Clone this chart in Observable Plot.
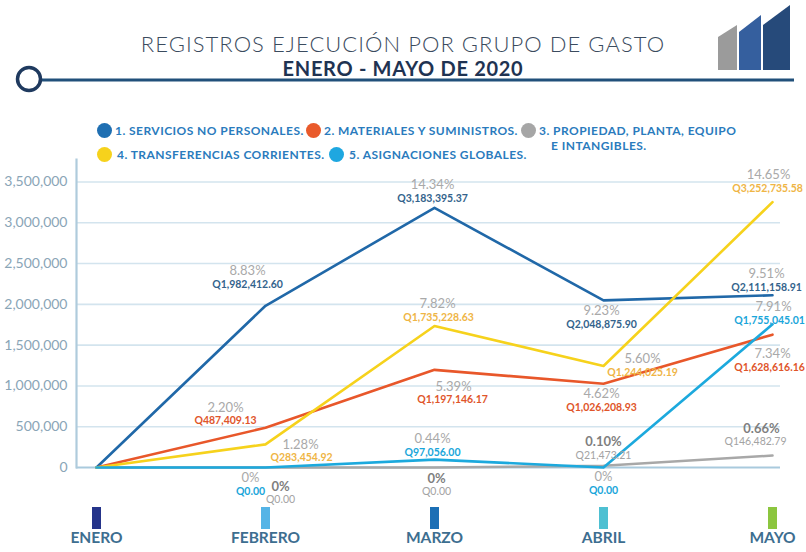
<!DOCTYPE html>
<html><head><meta charset="utf-8">
<script src="https://cdn.jsdelivr.net/npm/d3@7"></script>
<script src="https://cdn.jsdelivr.net/npm/@observablehq/plot@0.6"></script>
<style>
html,body{margin:0;padding:0;background:#fff;}
body{width:806px;height:552px;overflow:hidden;font-family:Lato,"Open Sans",sans-serif;}
#head{position:relative;width:806px;height:158px;}
#deco{position:absolute;left:0;top:0;}
.t1{position:absolute;left:0;width:806px;top:30px;text-align:center;font-size:22px;font-weight:300;letter-spacing:1.05px;color:#3b4b5e;line-height:28px;}
.t2{position:absolute;left:0;width:806px;top:56px;text-align:center;font-size:20px;font-weight:700;letter-spacing:0.7px;color:#1f3352;line-height:24px;}
.lg{position:absolute;font-size:12px;font-weight:700;letter-spacing:0.45px;color:#2a7bbd;line-height:13px;white-space:nowrap;}
.dot{position:absolute;width:15px;height:15px;border-radius:50%;}
#chart{width:806px;height:394px;}
</style></head><body>
<div id="head">
<svg id="deco" width="806" height="158">
  <line x1="40" y1="80" x2="794" y2="80" stroke="#21507a" stroke-width="3"/>
  <circle cx="29" cy="79" r="11.5" fill="#fff" stroke="#1f3a5f" stroke-width="3.5"/>
  <polygon points="718,37 737,25 737,70 718,70" fill="#9b9b9b"/>
  <polygon points="739,32 761,15 761,70 739,70" fill="#355f9e"/>
  <polygon points="763,25 790,5 790,70 763,70" fill="#264a7a"/>
</svg>
<div class="t1">REGISTROS EJECUCIÓN POR GRUPO DE GASTO</div>
<div class="t2">ENERO - MAYO DE 2020</div>
<div id="legend"></div>
</div>
<div id="chart"></div>
<script>
// ---- data ----
const months = ["ENERO", "FEBRERO", "MARZO", "ABRIL", "MAYO"];
const monthColors = ["#25348a", "#55b4e6", "#1c6fb5", "#4ec0d2", "#8cc63f"];
const seriesNames = ["1. SERVICIOS NO PERSONALES.", "2. MATERIALES Y SUMINISTROS.", "3. PROPIEDAD, PLANTA, EQUIPO\nE INTANGIBLES.", "4. TRANSFERENCIAS CORRIENTES.", "5. ASIGNACIONES GLOBALES."];
const lineColors = ["#2068a8", "#e8572a", "#a8a8a8", "#f6d21c", "#1ca9dd"];
const amountColors = ["#33638c", "#e0552a", "#a3a3a3", "#efb545", "#1aa6da"];
const servicios = [0, 1982412.60, 3183395.37, 2048875.90, 2111158.91];
const materiales = [0, 487409.13, 1197146.17, 1026208.93, 1628616.16];
const propiedad = [0, 0, 0, 21473.21, 146482.79];
const transferencias = [0, 283454.92, 1735228.63, 1244025.19, 3252735.58];
const asignaciones = [0, 0, 97056.00, 0, 1755045.01];
const pctServicios = [null, "8.83%", "14.34%", "9.23%", "9.51%"];
const pctMateriales = [null, "2.20%", "5.39%", "4.62%", "7.34%"];
const pctPropiedad = [null, "0%", "0%", "0.10%", "0.66%"];
const pctTransferencias = [null, "1.28%", "7.82%", "5.60%", "14.65%"];
const pctAsignaciones = [null, "0%", "0.44%", "0%", "7.91%"];
const yTicks = [0, 500000, 1000000, 1500000, 2000000, 2500000, 3000000, 3500000];

// ---- layout (label offsets: dxPct, dyPct, dxAmt, dyAmt) ----
const labelOffsets = [
  [null, [-18,-35,-18,-21], [-2,-23,-2,-9.5], [-2,10,-2,24], [-6,-21,-6,-7.5]],
  [null, [-40,-20,-40,-7], [19,16.6,18,29.6], [-2,9.7,-2,23.7], [0,19,-3,33]],
  [null, [15,19,15,32], [2,11,2,24], [0,-24,0,-10], [-11,-27,-17,-14]],
  [null, [35,0,36,13.6], [3,-22.5,4,-8.5], [39,-7.5,39,6.5], [-4,-27.7,-5,-13.7]],
  [null, [-15,10,-15,24], [-2,-21,-2,-7], [0,9,0,23], [1,-18,-3,-4]]
];
const legendPos = [[104,130,115,124],[313,130,324,124],[528,130,539,124],[104.5,154,117,148],[336.5,154,349,148]];
const legendDotColors = ["#1f6fb2", "#e95a2b", "#a6a6a6", "#f6d21c", "#1ea7e0"];

// legend
const lg = document.getElementById("legend");
seriesNames.forEach((name, i) => {
  const [cx, cy, tx, ty] = legendPos[i];
  const d = document.createElement("div");
  d.className = "dot";
  d.style.left = (cx - 7.5) + "px"; d.style.top = (cy - 7.5) + "px"; d.style.background = legendDotColors[i];
  lg.appendChild(d);
  const lines = name.split("\n");
  lines.forEach((ln, k) => {
    const t = document.createElement("div");
    t.className = "lg";
    t.textContent = ln;
    t.style.left = (tx + (k ? 12 : 0)) + "px";
    t.style.top = (ty + k * 14.5) + "px";
    lg.appendChild(t);
  });
});

const series = [servicios, materiales, propiedad, transferencias, asignaciones];
const pcts = [pctServicios, pctMateriales, pctPropiedad, pctTransferencias, pctAsignaciones];
const fmt = d3.format(",.2f");

const marks = [];
marks.push(Plot.ruleY(yTicks.filter(d => d > 0), {stroke: "#d3e4ee", strokeWidth: 1.6}));
marks.push(Plot.ruleY([0], {stroke: "#a9cadd", strokeWidth: 2.2}));
marks.push(Plot.frame({anchor: "left", stroke: "#afcbdc", strokeWidth: 2.2}));
marks.push(Plot.axisY(yTicks, {tickSize: 0, tickPadding: 9, tickFormat: d3.format(","), fontSize: 14, fill: "#8aa5b7", label: null}));

series.forEach((vals, i) => {
  const rows = months.map((m, j) => ({month: m, value: vals[j]}));
  marks.push(Plot.line(rows, {x: "month", y: "value", stroke: lineColors[i], strokeWidth: 2.6}));
});

series.forEach((vals, i) => {
  months.forEach((m, j) => {
    if (pcts[i][j] == null) return;
    const [dxp, dyp, dxa, dya] = labelOffsets[i][j];
    const row = [{month: m, value: vals[j]}];
    const gray = i === 2;
    marks.push(Plot.text(row, {x: "month", y: "value", text: () => pcts[i][j], dx: dxp, dy: dyp,
      fontSize: 13, fontWeight: gray ? 700 : 400, fill: gray ? "#7f7f7f" : "#a9a9a9"}));
    marks.push(Plot.text(row, {x: "month", y: "value", text: d => "Q" + fmt(d.value), dx: dxa, dy: dya,
      fontSize: 10.5, fontWeight: gray ? 400 : 700, fill: amountColors[i]}));
  });
});

const barSymbol = {draw(ctx) { ctx.rect(-4.5, -11, 9, 22); }};
marks.push(Plot.dot(months, {x: d => d, frameAnchor: "bottom", dy: 50.5, symbol: barSymbol, fill: (d, i) => monthColors[i], r: 5}));
marks.push(Plot.text(months, {x: d => d, text: d => d, frameAnchor: "bottom", dy: 75, fontSize: 15.5, fontWeight: 700, fill: "#3d6e90"}));

const chart = Plot.plot({
  width: 806,
  height: 394,
  marginLeft: 76,
  marginRight: 26,
  marginTop: 1,
  marginBottom: 85,
  style: {fontFamily: "Lato, 'Open Sans', sans-serif", background: "#fff", overflow: "hidden"},
  x: {type: "point", domain: months, range: [96, 772], padding: 0, axis: null},
  y: {domain: [0, 3500000], range: [309, 23.5], axis: null},
  color: {type: "identity"},
  marks
});
document.getElementById("chart").appendChild(chart);
</script>
</body></html>
